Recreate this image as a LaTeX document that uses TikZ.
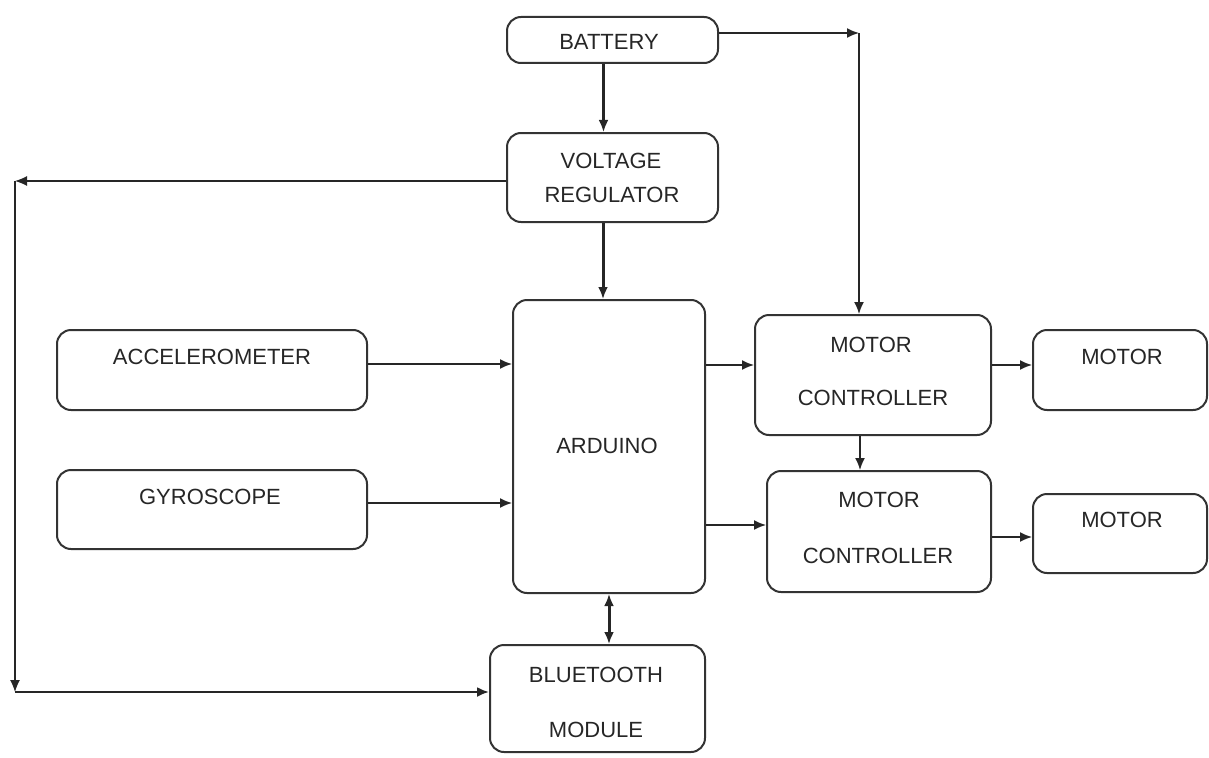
\documentclass[tikz,border=0pt]{standalone}
\usepackage{fontspec}
\setmainfont{Liberation Sans}
\usetikzlibrary{arrows.meta,calc}
\begin{document}
\begin{tikzpicture}[x=1pt,y=-1pt,
  box/.style={draw=black!80,line width=2pt,rounded corners=14pt,inner sep=0pt},
  lbl/.style={text=black!85,font=\fontsize{22}{26}\selectfont,inner sep=0pt},
  arr/.style={draw=black!85,line width=1.6pt,-{Latex[length=12pt,width=10pt]}},
  thick arr/.style={arr,line width=3pt},
  thin arr/.style={arr,line width=1.2pt}]
\useasboundingbox (0,0) rectangle (1209,757);
% boxes
\node[box,minimum width=211pt,minimum height=46pt] (bat) at (612.5,40) {};
\node[box,minimum width=211pt,minimum height=89pt] (vr) at (612.5,177.5) {};
\node[box,minimum width=192pt,minimum height=293pt] (ard) at (609,446.5) {};
\node[box,minimum width=310pt,minimum height=80pt] (acc) at (212,370) {};
\node[box,minimum width=310pt,minimum height=79pt] (gyr) at (212,509.5) {};
\node[box,minimum width=236pt,minimum height=120pt] (mca) at (873,375) {};
\node[box,minimum width=224pt,minimum height=121pt] (mcb) at (879,531.5) {};
\node[box,minimum width=174pt,minimum height=80pt] (moa) at (1120,370) {};
\node[box,minimum width=174pt,minimum height=79pt] (mob) at (1120,533.5) {};
\node[box,minimum width=215pt,minimum height=107pt] (bt) at (597.5,698.5) {};
% texts
\node[lbl] (tbat) at (609,42) {BATTERY};
\node[lbl] (tvr1) at (611,161) {VOLTAGE};
\node[lbl] (tvr2) at (612,195) {REGULATOR};
\node[lbl] (tard) at (607,446) {ARDUINO};
\node[lbl] (tacc) at (212,357) {ACCELEROMETER};
\node[lbl] (tgyr) at (210,497) {GYROSCOPE};
\node[lbl] (tmca1) at (871,345) {MOTOR};
\node[lbl] (tmca2) at (873,398) {CONTROLLER};
\node[lbl] (tmcb1) at (879,500) {MOTOR};
\node[lbl] (tmcb2) at (878,556) {CONTROLLER};
\node[lbl] (tmoa) at (1122,357) {MOTOR};
\node[lbl] (tmob) at (1122,520) {MOTOR};
\node[lbl] (tbt1) at (596,675) {BLUETOOTH};
\node[lbl] (tbt2) at (596,730) {MODULE};
% corner coordinates
\coordinate (c1) at (859,33);
\coordinate (c2) at (15,181);
\coordinate (c3) at (15,692);
% connectors
\draw[thick arr] ([xshift=-9pt]bat.south) -- ([xshift=-9pt]vr.north);
\draw[thick arr] ([xshift=-6pt]vr.south -| ard.north) -- ([xshift=-6pt]ard.north);
\draw[arr] (c1 -| bat.east) -- (c1);
\draw[arr] (c1) -- (c1 |- mca.north);
\draw[thin arr] (c2 -| vr.west) -- (c2);
\draw[thin arr] (c2) -- (c3);
\draw[arr,line width=2.2pt] (c3) -- (c3 -| bt.west);
\draw[arr] ([yshift=6pt]acc.east) -- ([yshift=6pt]acc.east -| ard.west);
\draw[arr] ([yshift=6.5pt]gyr.east) -- ([yshift=6.5pt]gyr.east -| ard.west);
\draw[arr] ([yshift=10pt]mca.west -| ard.east) -- ([yshift=10pt]mca.west);
\draw[arr] ([yshift=6.5pt]mcb.west -| ard.east) -- ([yshift=6.5pt]mcb.west);
\draw[arr] ([yshift=5pt]moa.west -| mca.east) -- ([yshift=5pt]moa.west);
\draw[arr] ([yshift=-3.5pt]mob.west -| mcb.east) -- ([yshift=-3.5pt]mob.west);
\draw[arr] ([xshift=-13pt]mca.south) -- ([xshift=-13pt]mca.south |- mcb.north);
\draw[thick arr,{Latex[length=12pt,width=10pt]}-{Latex[length=12pt,width=10pt]}] (ard.south) -- (ard.south |- bt.north);
\end{tikzpicture}
\end{document}
